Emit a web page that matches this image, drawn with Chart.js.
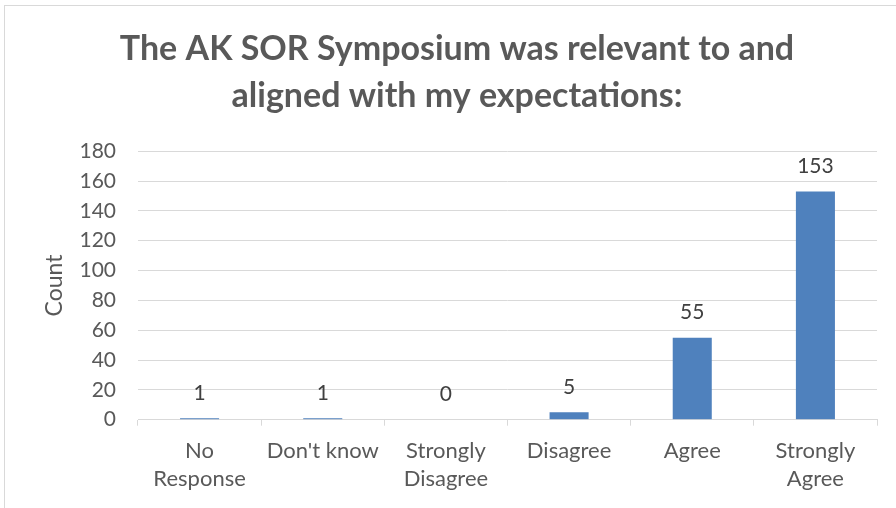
<!DOCTYPE html>
<html><head><meta charset="utf-8">
<script src="https://cdn.jsdelivr.net/npm/chart.js@4"></script>
<style>
html,body{margin:0;padding:0;background:#fff;overflow:hidden}
#wrap{position:relative;width:896px;height:508px}
#frame{position:absolute;left:4px;top:5px;width:920px;height:520px;border:1px solid #d9d9d9;pointer-events:none}
</style></head>
<body><div id="wrap"><canvas id="c" width="896" height="508"></canvas><div id="frame"></div></div>
<script>
const categories = [["No","Response"],"Don't know",["Strongly","Disagree"],"Disagree","Agree",["Strongly","Agree"]];
const counts = [1, 1, 0, 5, 55, 153];
const yTicks = {min: 0, max: 180, step: 20};
const titleLines = ["The AK SOR Symposium was relevant to and","aligned with my expectations:"];
const FONT = "Lato, 'Open Sans', sans-serif";
const TXT = "#595959";

const labelPlugin = {
  id: 'vals',
  afterDatasetsDraw(chart){
    const ctx = chart.ctx;
    const meta = chart.getDatasetMeta(0);
    ctx.save();
    ctx.font = "21px " + FONT;
    ctx.fillStyle = "#404040";
    ctx.textAlign = "center";
    ctx.textBaseline = "middle";
    meta.data.forEach((bar, i) => {
      ctx.fillText(String(counts[i]), bar.x, bar.y - 25);
    });
    ctx.restore();
  }
};

new Chart(document.getElementById('c'), {
  type: 'bar',
  data: {
    labels: categories,
    datasets: [{
      data: counts,
      backgroundColor: '#4F81BD',
      borderWidth: 0,
      barPercentage: 1,
      categoryPercentage: 0.317
    }]
  },
  options: {
    responsive: false,
    animation: false,
    devicePixelRatio: 1,
    layout: {padding: {left: 37, right: 19, top: 25, bottom: 4}},
    plugins: {
      legend: {display: false},
      tooltip: {enabled: false},
      title: {
        display: true,
        text: titleLines,
        color: TXT,
        font: {family: FONT, size: 34, weight: 'bold', lineHeight: 1.4},
        padding: {top: 0, bottom: 31}
      }
    },
    scales: {
      x: {
        grid: {drawOnChartArea: false, drawTicks: true, tickLength: 6, color: '#d9d9d9', offset: true},
        border: {color: '#d9d9d9', width: 1},
        ticks: {color: TXT, font: {family: FONT, size: 22, lineHeight: 1.28}, padding: 11, maxRotation: 0, autoSkip: false}
      },
      y: {
        min: yTicks.min, max: yTicks.max,
        afterFit(s){ s.width = 101; },
        ticks: {stepSize: yTicks.step, color: TXT, font: {family: FONT, size: 21}, padding: 22},
        grid: {color: '#d9d9d9', drawTicks: false},
        border: {display: false},
        title: {display: true, text: 'Count', color: TXT, font: {family: FONT, size: 23}, padding: {top: 4, bottom: 0}}
      }
    }
  },
  plugins: [labelPlugin]
});
</script>
</body></html>
